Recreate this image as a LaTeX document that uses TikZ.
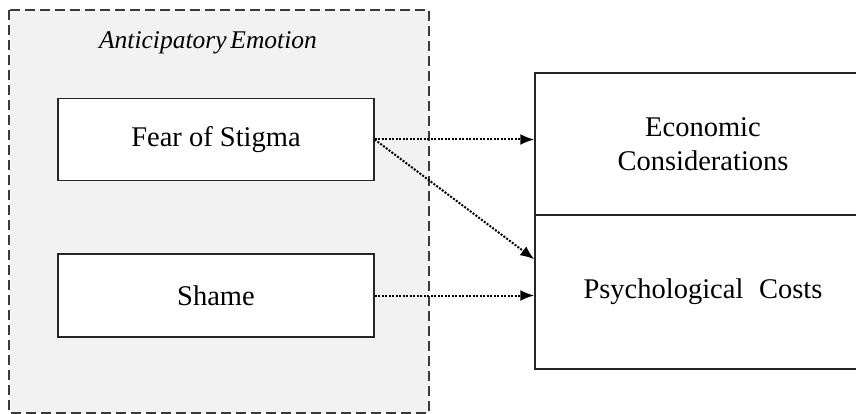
\documentclass[tikz,border=0pt]{standalone}
\usepackage{fontspec}
\setmainfont{Liberation Serif}
\newfontfamily\tnr{Liberation Serif}
\usetikzlibrary{arrows.meta,calc}
\definecolor{panelgray}{HTML}{F2F2F2}
\definecolor{dashgray}{HTML}{3A3A3A}
\tikzset{
  x=1pt, y=-1pt,
  stepbox/.style={draw=black!85, line width=1.4pt, fill=white, rectangle, align=center,
    font=\tnr\fontsize{28.5}{32}\selectfont, inner sep=0pt},
  panel/.style={draw=dashgray, fill=panelgray, line width=1.6pt, dash pattern=on 10pt off 5pt},
  dotarrow/.style={draw=black, line width=2pt, dash pattern=on 2pt off 1.5pt, -{Latex[length=14pt,width=11pt]}}
}
\begin{document}
\begin{tikzpicture}
\clip (0,0) rectangle (856,414);
\useasboundingbox (0,0) rectangle (856,414);
\draw[panel] (9,10) rectangle (429,413);
\node[font=\tnr\fontsize{25.5}{29}\selectfont\itshape] (title) at (208,43) {Anticipatory\hspace{-0.1em} Emotion};
\node[stepbox, minimum width=316pt, minimum height=82pt] (fear) at (216,139.5) {Fear of Stigma};
\node[stepbox, minimum width=316pt, minimum height=83pt] (shame) at (216,295.5) {Shame};
\node[stepbox, minimum width=336pt, minimum height=142pt] (econ) at (703,144) {Economic\\[2pt]Considerations};
\node[stepbox, minimum width=336pt, minimum height=154pt] (psych) at (703,292) {Psychological\hspace{0.3em} Costs};
\coordinate (diagend) at ($(psych.north west)+(0,45)$);
\draw[dotarrow] (fear.east) -- (econ.west |- fear.east);
\draw[dotarrow] (fear.east) -- (diagend);
\draw[dotarrow] (shame.east) -- (psych.west |- shame.east);
\end{tikzpicture}
\end{document}
